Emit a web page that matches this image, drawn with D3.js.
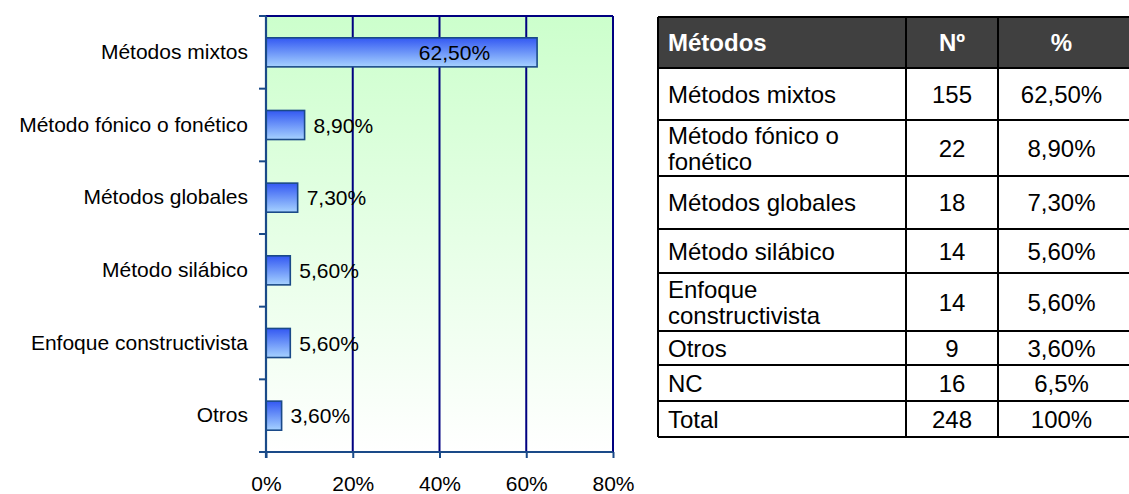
<!DOCTYPE html>
<html>
<head>
<meta charset="utf-8">
<script src="https://cdn.jsdelivr.net/npm/d3@7"></script>
<style>
  html, body { margin: 0; padding: 0; background: #fff; }
  svg { display: block; font-family: "Liberation Sans", Arial, sans-serif; }
</style>
</head>
<body>
<svg id="chart" width="1129" height="494"></svg>
<script>
// Bar chart data
const categories = ["Métodos mixtos", "Método fónico o fonético", "Métodos globales",
                    "Método silábico", "Enfoque constructivista", "Otros"];
const percents = [62.5, 8.9, 7.3, 5.6, 5.6, 3.6];
const percentLabels = ["62,50%", "8,90%", "7,30%", "5,60%", "5,60%", "3,60%"];
const xTicks = [0, 20, 40, 60, 80];

// Summary table data
const tableHeader = ["Métodos", "Nº", "%"];
const tableMethods = [["Métodos mixtos"], ["Método fónico o", "fonético"], ["Métodos globales"],
                      ["Método silábico"], ["Enfoque", "constructivista"], ["Otros"], ["NC"], ["Total"]];
const tableCounts = ["155", "22", "18", "14", "14", "9", "16", "248"];
const tablePercents = ["62,50%", "8,90%", "7,30%", "5,60%", "5,60%", "3,60%", "6,5%", "100%"];

const svg = d3.select("#chart");

// ---------- Bar chart ----------
const plot = { left: 266, right: 613, top: 16, bottom: 452 };
const x = d3.scaleLinear().domain([0, 80]).range([plot.left, plot.right]);
const y = d3.scaleBand().domain(categories).range([plot.top, plot.bottom])
  .paddingInner(0.6).paddingOuter(0.3);

const defs = svg.append("defs");
const bg = defs.append("linearGradient").attr("id", "bgGrad")
  .attr("x1", 0).attr("y1", 0).attr("x2", 0).attr("y2", 1);
bg.append("stop").attr("offset", "0%").attr("stop-color", "#ccffcc");
bg.append("stop").attr("offset", "100%").attr("stop-color", "#ffffff");

const barGrad = defs.append("linearGradient").attr("id", "barGrad")
  .attr("x1", 0).attr("y1", 0).attr("x2", 0).attr("y2", 1);
barGrad.append("stop").attr("offset", "0%").attr("stop-color", "#3358f2");
barGrad.append("stop").attr("offset", "100%").attr("stop-color", "#a6d2ff");

svg.append("rect")
  .attr("x", plot.left).attr("y", plot.top)
  .attr("width", plot.right - plot.left).attr("height", plot.bottom - plot.top)
  .attr("fill", "url(#bgGrad)");

// vertical gridlines
svg.append("g").selectAll("line").data(xTicks.filter(d => d > 0)).join("line")
  .attr("x1", d => x(d)).attr("x2", d => x(d))
  .attr("y1", plot.top).attr("y2", plot.bottom)
  .attr("stroke", "#000080").attr("stroke-width", 2);

// top border of plot area
svg.append("line")
  .attr("x1", plot.left).attr("x2", plot.right)
  .attr("y1", plot.top).attr("y2", plot.top)
  .attr("stroke", "#000080").attr("stroke-width", 2);

// bars
svg.append("g").selectAll("rect").data(percents).join("rect")
  .attr("x", x(0))
  .attr("y", (d, i) => y(categories[i]))
  .attr("width", d => x(d) - x(0))
  .attr("height", y.bandwidth())
  .attr("fill", "url(#barGrad)")
  .attr("stroke", "#1a4a88").attr("stroke-width", 1.6);

// value labels
svg.append("g").selectAll("text").data(percents).join("text")
  .attr("x", d => d > 50 ? x(d) - 47 : x(d) + 9)
  .attr("y", (d, i) => y(categories[i]) + y.bandwidth() / 2)
  .attr("dy", "0.36em")
  .attr("text-anchor", d => d > 50 ? "end" : "start")
  .attr("font-size", 21)
  .attr("fill", "#000")
  .text((d, i) => percentLabels[i]);

// left axis: line, boundary ticks and category labels
const axisColor = "#1a4a88";
svg.append("line")
  .attr("x1", plot.left).attr("x2", plot.left)
  .attr("y1", plot.top).attr("y2", plot.bottom + 6)
  .attr("stroke", axisColor).attr("stroke-width", 2.2);
const bounds = d3.range(categories.length + 1).map(i => plot.top + i * y.step());
svg.append("g").selectAll("line").data(bounds).join("line")
  .attr("x1", plot.left - 7).attr("x2", plot.left)
  .attr("y1", d => d).attr("y2", d => d)
  .attr("stroke", axisColor).attr("stroke-width", 2);

const yAxis = svg.append("g")
  .attr("transform", `translate(${plot.left - 18},0)`)
  .call(d3.axisLeft(y).tickSize(0).tickPadding(0));
yAxis.select(".domain").remove();
yAxis.selectAll("text")
  .attr("font-size", 21).attr("font-family", "Liberation Sans, Arial, sans-serif")
  .attr("fill", "#000");

// bottom axis
svg.append("line")
  .attr("x1", plot.left - 7).attr("x2", plot.right)
  .attr("y1", plot.bottom).attr("y2", plot.bottom)
  .attr("stroke", axisColor).attr("stroke-width", 2.2);
const xAxis = svg.append("g")
  .attr("transform", `translate(0,${plot.bottom})`)
  .call(d3.axisBottom(x).tickValues(xTicks).tickFormat(d => d + "%").tickSize(6).tickPadding(18));
xAxis.select(".domain").remove();
xAxis.selectAll(".tick line").attr("stroke", axisColor).attr("stroke-width", 2);
xAxis.selectAll("text")
  .attr("font-size", 21).attr("font-family", "Liberation Sans, Arial, sans-serif")
  .attr("fill", "#000");

// ---------- Table ----------
const colEdges = [658, 906, 998, 1125];
const rowEdges = [17, 68, 120, 176, 229, 273, 331, 365, 401, 437];
const tFont = 24;
const lineGap = 26;
const table = svg.append("g").attr("font-size", tFont);

table.append("rect")
  .attr("x", colEdges[0]).attr("y", rowEdges[0])
  .attr("width", colEdges[3] - colEdges[0] + 10).attr("height", rowEdges[1] - rowEdges[0])
  .attr("fill", "#404040");

tableHeader.forEach((h, j) => {
  table.append("text")
    .attr("x", j === 0 ? colEdges[0] + 10 : (colEdges[j] + colEdges[j + 1]) / 2)
    .attr("y", (rowEdges[0] + rowEdges[1]) / 2)
    .attr("dy", "0.36em")
    .attr("text-anchor", j === 0 ? "start" : "middle")
    .attr("font-weight", "bold").attr("fill", "#fff")
    .text(h);
});

tableMethods.forEach((lines, i) => {
  const cy = (rowEdges[i + 1] + rowEdges[i + 2]) / 2;
  lines.forEach((ln, k) => {
    table.append("text")
      .attr("x", colEdges[0] + 10)
      .attr("y", cy + (k - (lines.length - 1) / 2) * lineGap)
      .attr("dy", "0.36em").attr("fill", "#000")
      .text(ln);
  });
  [tableCounts[i], tablePercents[i]].forEach((v, j) => {
    table.append("text")
      .attr("x", (colEdges[j + 1] + colEdges[j + 2]) / 2)
      .attr("y", cy).attr("dy", "0.36em")
      .attr("text-anchor", "middle").attr("fill", "#000")
      .text(v);
  });
});

// grid lines of the table
table.append("g").selectAll("line").data(rowEdges).join("line")
  .attr("x1", colEdges[0]).attr("x2", 1129)
  .attr("y1", d => d).attr("y2", d => d)
  .attr("stroke", "#000").attr("stroke-width", 2);
table.append("g").selectAll("line").data(colEdges.slice(0, 3)).join("line")
  .attr("x1", d => d).attr("x2", d => d)
  .attr("y1", rowEdges[0]).attr("y2", rowEdges[rowEdges.length - 1])
  .attr("stroke", "#000").attr("stroke-width", 2);
</script>
</body>
</html>
